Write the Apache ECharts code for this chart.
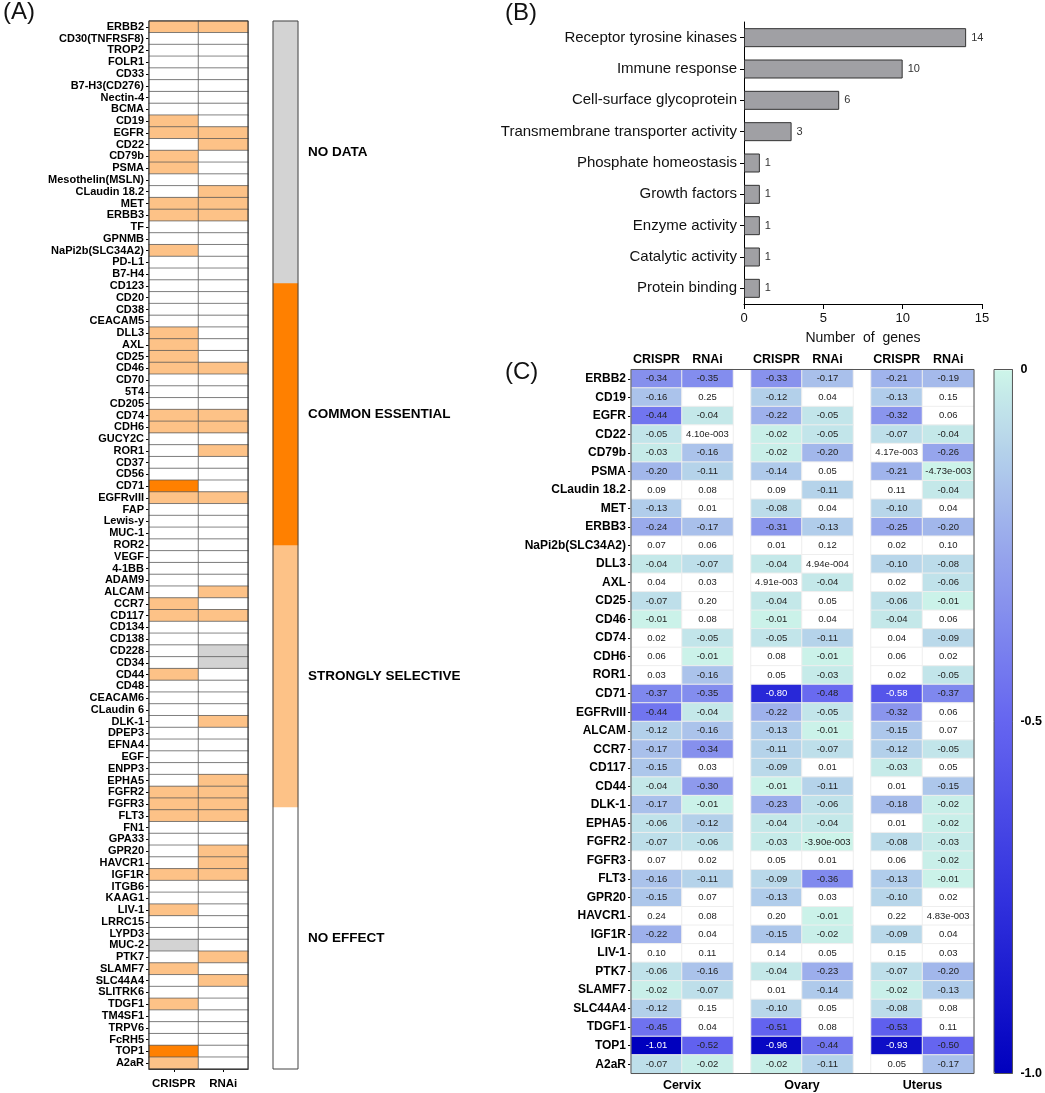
<!DOCTYPE html>
<html><head><meta charset="utf-8">
<script src="https://cdn.jsdelivr.net/npm/echarts@6/dist/echarts.min.js"></script>
<style>html,body{margin:0;padding:0;background:#fff}#c{width:1045px;height:1093px}</style>
</head><body><div id="c"></div>
<script>
// ---------- Panel A data ----------
const genesA = ['ERBB2','CD30(TNFRSF8)','TROP2','FOLR1','CD33','B7-H3(CD276)','Nectin-4','BCMA','CD19','EGFR',
'CD22','CD79b','PSMA','Mesothelin(MSLN)','CLaudin 18.2','MET','ERBB3','TF','GPNMB','NaPi2b(SLC34A2)',
'PD-L1','B7-H4','CD123','CD20','CD38','CEACAM5','DLL3','AXL','CD25','CD46',
'CD70','5T4','CD205','CD74','CDH6','GUCY2C','ROR1','CD37','CD56','CD71',
'EGFRvIII','FAP','Lewis-y','MUC-1','ROR2','VEGF','4-1BB','ADAM9','ALCAM','CCR7',
'CD117','CD134','CD138','CD228','CD34','CD44','CD48','CEACAM6','CLaudin 6','DLK-1',
'DPEP3','EFNA4','EGF','ENPP3','EPHA5','FGFR2','FGFR3','FLT3','FN1','GPA33',
'GPR20','HAVCR1','IGF1R','ITGB6','KAAG1','LIV-1','LRRC15','LYPD3','MUC-2','PTK7',
'SLAMF7','SLC44A4','SLITRK6','TDGF1','TM4SF1','TRPV6','FcRH5','TOP1','A2aR'];
// 0 = no effect, 1 = strongly selective, 2 = common essential, 3 = no data
const crisprA = [1,0,0,0,0,0,0,0,1,1, 0,1,1,0,0,1,1,0,0,1, 0,0,0,0,0,0,1,1,1,1, 0,0,0,1,1,0,0,0,0,2,
1,0,0,0,0,0,0,0,0,1, 1,0,0,0,0,1,0,0,0,0, 0,0,0,0,0,1,1,1,0,0, 0,0,1,0,0,1,0,0,3,0, 1,0,0,1,0,0,0,2,1];
const rnaiA = [1,0,0,0,0,0,0,0,0,1, 1,0,0,0,1,1,1,0,0,0, 0,0,0,0,0,0,0,0,0,1, 0,0,0,1,1,0,1,0,0,0,
1,0,0,0,0,0,0,0,1,0, 1,0,0,3,3,0,0,0,0,1, 0,0,0,0,1,1,1,1,0,0, 1,1,1,0,0,0,0,0,0,1, 0,1,0,0,0,0,0,0,0];
const colsA = ['CRISPR','RNAi'];
const stateNames = ['NO EFFECT','STRONGLY SELECTIVE','COMMON ESSENTIAL','NO DATA'];
const stateCodes = [0,1,2,3];
const stateColors = ['#FFFFFF','#FDC287','#FF8000','#D3D3D3'];

// ---------- Panel B data ----------
const categoriesB = ['Receptor tyrosine kinases','Immune response','Cell-surface glycoprotein','Transmembrane transporter activity',
'Phosphate homeostasis','Growth factors','Enzyme activity','Catalytic activity','Protein binding'];
const countsB = [14,10,6,3,1,1,1,1,1];
const ticksB = [0,5,10,15];

// ---------- Panel C data ----------
const genesC = ['ERBB2','CD19','EGFR','CD22','CD79b','PSMA','CLaudin 18.2','MET','ERBB3','NaPi2b(SLC34A2)',
'DLL3','AXL','CD25','CD46','CD74','CDH6','ROR1','CD71','EGFRvIII','ALCAM',
'CCR7','CD117','CD44','DLK-1','EPHA5','FGFR2','FGFR3','FLT3','GPR20','HAVCR1',
'IGF1R','LIV-1','PTK7','SLAMF7','SLC44A4','TDGF1','TOP1','A2aR'];
const tissuesC = ['Cervix','Ovary','Uterus'];
const methodsC = ['CRISPR','RNAi'];
const cervixCRISPR = [-0.34,-0.16,-0.44,-0.05,-0.03,-0.20,0.09,-0.13,-0.24,0.07,-0.04,0.04,-0.07,-0.01,0.02,0.06,0.03,-0.37,-0.44,-0.12,-0.17,-0.15,-0.04,-0.17,-0.06,-0.07,0.07,-0.16,-0.15,0.24,-0.22,0.10,-0.06,-0.02,-0.12,-0.45,-1.01,-0.07];
const cervixRNAi = [-0.35,0.25,-0.04,0.0041,-0.16,-0.11,0.08,0.01,-0.17,0.06,-0.07,0.03,0.20,0.08,-0.05,-0.01,-0.16,-0.35,-0.04,-0.16,-0.34,0.03,-0.30,-0.01,-0.12,-0.06,0.02,-0.11,0.07,0.08,0.04,0.11,-0.16,-0.07,0.15,0.04,-0.52,-0.02];
const ovaryCRISPR = [-0.33,-0.12,-0.22,-0.02,-0.02,-0.14,0.09,-0.08,-0.31,0.01,-0.04,0.00491,-0.04,-0.01,-0.05,0.08,0.05,-0.80,-0.22,-0.13,-0.11,-0.09,-0.01,-0.23,-0.04,-0.03,0.05,-0.09,-0.13,0.20,-0.15,0.14,-0.04,0.01,-0.10,-0.51,-0.96,-0.02];
const ovaryRNAi = [-0.17,0.04,-0.05,-0.05,-0.20,0.05,-0.11,0.04,-0.13,0.12,0.000494,-0.04,0.05,0.04,-0.11,-0.01,-0.03,-0.48,-0.05,-0.01,-0.07,0.01,-0.11,-0.06,-0.04,-0.0039,0.01,-0.36,0.03,-0.01,-0.02,0.05,-0.23,-0.14,0.05,0.08,-0.44,-0.11];
const uterusCRISPR = [-0.21,-0.13,-0.32,-0.07,0.00417,-0.21,0.11,-0.10,-0.25,0.02,-0.10,0.02,-0.06,-0.04,0.04,0.06,0.02,-0.58,-0.32,-0.15,-0.12,-0.03,0.01,-0.18,0.01,-0.08,0.06,-0.13,-0.10,0.22,-0.09,0.15,-0.07,-0.02,-0.08,-0.53,-0.93,0.05];
const uterusRNAi = [-0.19,0.15,0.06,-0.04,-0.26,-0.00473,-0.04,0.04,-0.20,0.10,-0.08,-0.06,-0.01,0.06,-0.09,0.02,-0.05,-0.37,0.06,0.07,-0.05,0.05,-0.15,-0.02,-0.02,-0.03,-0.02,-0.01,0.02,0.00483,0.04,0.03,-0.20,-0.13,0.08,0.11,-0.50,-0.17];
const colorTicks = [0,-0.5,-1.0];

// ---------- build ----------
const FONT = '"Liberation Sans", Arial, sans-serif';
const dataA = [];
genesA.forEach((g,i)=>{ dataA.push([0,i,crisprA[i]]); dataA.push([1,i,rnaiA[i]]); });
const legendData = stateCodes.map((c,i)=>[0,i,c]);
const tissueCols = [[cervixCRISPR,cervixRNAi],[ovaryCRISPR,ovaryRNAi],[uterusCRISPR,uterusRNAi]];
function cData(pair){ const d=[]; genesC.forEach((g,i)=>{ d.push([0,i,pair[0][i]]); d.push([1,i,pair[1][i]]); }); return d; }
function fmt(v){
  if (v !== 0 && Math.abs(v) < 0.005) {
    const e = Math.floor(Math.log10(Math.abs(v)));
    const m = v / Math.pow(10,e);
    return m.toFixed(2) + 'e-' + String(-e).padStart(3,'0');
  }
  return v.toFixed(2);
}
const gridC = [{left:631,width:102},{left:751,width:102},{left:871,width:103}];
const C_TOP = 369.5, C_H = 704;

const blackLine = {lineStyle:{color:'#000',width:1}};
const grids = [
  {left:149, top:21, width:99, height:1048, show:true, borderColor:'#333', borderWidth:1, z:5},
  {left:273, top:21, width:25, height:1048, show:true, borderColor:'#444', borderWidth:1, z:5},
  {left:744, top:22, width:238, height:282},
  ...gridC.map(g=>({left:g.left, width:g.width, top:C_TOP, height:C_H})),
  {left:631, top:C_TOP, width:343, height:C_H, show:true, borderColor:'#555', borderWidth:1, z:10},
  {left:994, top:C_TOP, width:19, height:C_H, show:true, borderColor:'#555', borderWidth:1, z:10}
];
const xAxes = [
  {gridIndex:0, type:'category', data:colsA, position:'bottom', axisLine:blackLine,
   axisTick:{show:true, length:3, alignWithLabel:true, lineStyle:{color:'#000'}},
   axisLabel:{interval:0, hideOverlap:false, fontFamily:FONT, fontWeight:'bold', fontSize:11.5, color:'#000', margin:9}},
  {gridIndex:1, type:'category', data:[''], show:false},
  {gridIndex:2, type:'value', min:0, max:15, interval:5, axisLine:{show:true, lineStyle:{color:'#000'}},
   axisTick:{show:true, length:5, lineStyle:{color:'#000'}}, splitLine:{show:false},
   axisLabel:{fontFamily:FONT, fontSize:13, color:'#111', margin:8},
   name:'Number  of  genes', nameLocation:'middle', nameGap:27,
   nameTextStyle:{fontFamily:FONT, fontSize:14, color:'#111'}},
  ...gridC.map((g,k)=>({gridIndex:3+k, type:'category', data:methodsC, position:'top',
   axisLine:{show:false}, axisTick:{show:false},
   axisLabel:{interval:0, hideOverlap:false, fontFamily:FONT, fontWeight:'bold', fontSize:12.5, color:'#000', margin:3}})),
  ...gridC.map((g,k)=>({gridIndex:3+k, type:'category', data:[tissuesC[k]], position:'bottom',
   axisLine:{show:false}, axisTick:{show:false},
   axisLabel:{interval:0, fontFamily:FONT, fontWeight:'bold', fontSize:12.5, color:'#000', margin:6}})),
  {gridIndex:6, type:'category', data:[''], show:false},
  {gridIndex:7, type:'category', data:[''], show:false}
];
const yAxes = [
  {gridIndex:0, type:'category', data:genesA, inverse:true, axisLine:blackLine,
   axisTick:{show:true, length:3, alignWithLabel:true, lineStyle:{color:'#000'}},
   axisLabel:{interval:0, hideOverlap:false, fontFamily:FONT, fontWeight:'bold', fontSize:11, color:'#000', margin:5}},
  {gridIndex:1, type:'category', data:stateNames, position:'right', axisLine:{show:false},
   axisTick:{show:true, inside:true, length:3, alignWithLabel:true, lineStyle:{color:'#333'}},
   axisLabel:{interval:0, fontFamily:FONT, fontWeight:'bold', fontSize:13.5, color:'#000', margin:10}},
  {gridIndex:1, type:'category', data:stateNames, position:'left', axisLine:{show:false},
   axisTick:{show:true, inside:true, length:3, alignWithLabel:true, lineStyle:{color:'#333'}},
   axisLabel:{show:false}},
  {gridIndex:2, type:'category', data:categoriesB, inverse:true, axisLine:blackLine,
   axisTick:{show:true, length:4, alignWithLabel:true, lineStyle:{color:'#000'}},
   axisLabel:{interval:0, fontFamily:FONT, fontSize:15, color:'#111', margin:7}},
  {gridIndex:3, type:'category', data:genesC, inverse:true, axisLine:blackLine,
   axisTick:{show:true, length:3, alignWithLabel:true, lineStyle:{color:'#000'}},
   axisLabel:{interval:0, hideOverlap:false, fontFamily:FONT, fontWeight:'bold', fontSize:12, color:'#000', margin:5}},
  {gridIndex:4, type:'category', data:genesC, inverse:true, show:false},
  {gridIndex:5, type:'category', data:genesC, inverse:true, show:false},
  {gridIndex:6, type:'category', data:[''], show:false},
  {gridIndex:7, type:'value', min:-1, max:0, interval:0.5, position:'right',
   axisLine:{show:false}, splitLine:{show:false},
   axisTick:{show:true, inside:true, length:4, lineStyle:{color:'#333'}},
   axisLabel:{fontFamily:FONT, fontWeight:'bold', fontSize:12.5, color:'#000', margin:8,
     formatter:v=>{ const t = colorTicks.find(c=>Math.abs(c-v)<1e-9); return t===0 ? '0' : t.toFixed(1); }}}
];
const series = [
  {type:'heatmap', xAxisIndex:0, yAxisIndex:0, data:dataA,
   itemStyle:{borderColor:'#555', borderWidth:0.7}, emphasis:{disabled:true}},
  {type:'heatmap', xAxisIndex:1, yAxisIndex:1, data:legendData,
   itemStyle:{borderWidth:0}, emphasis:{disabled:true}},
  {type:'bar', xAxisIndex:2, yAxisIndex:3, data:countsB, barWidth:19,
   itemStyle:{color:'#A0A0A4', borderColor:'#333', borderWidth:1},
   label:{show:true, position:'right', distance:5, fontFamily:FONT, fontSize:11, color:'#333'},
   emphasis:{disabled:true}},
  ...tissueCols.map((pair,k)=>({type:'heatmap', xAxisIndex:3+k, yAxisIndex:4+k, data:cData(pair),
   itemStyle:{borderColor:'#EEEEEE', borderWidth:1}, emphasis:{disabled:true},
   label:{show:true, fontFamily:FONT, fontSize:9.5,
     formatter:p=>(p.value[2] < -0.55 ? '{w|' : '{d|') + fmt(p.value[2]) + '}',
     rich:{w:{color:'#FFFFFF', fontFamily:FONT, fontSize:9.5}, d:{color:'#222', fontFamily:FONT, fontSize:9.5}}}}))
];

const panelTitle = {fontFamily:FONT, fontSize:24, fontWeight:'normal', color:'#111'};
const option = {
  animation:false,
  backgroundColor:'#FFFFFF',
  textStyle:{fontFamily:FONT},
  title:[
    {text:'(A)', left:3, top:0, padding:0, textStyle:panelTitle},
    {text:'(B)', left:505, top:1, padding:0, textStyle:panelTitle},
    {text:'(C)', left:505, top:360, padding:0, textStyle:panelTitle}
  ],
  grid:grids, xAxis:xAxes, yAxis:yAxes,
  visualMap:[
    {type:'piecewise', show:false, seriesIndex:[0,1], dimension:2,
     pieces:stateCodes.map((c,i)=>({value:c, color:stateColors[i]}))},
    {type:'continuous', seriesIndex:[3,4,5], dimension:2, min:-1, max:0.001, range:[-1,0],
     calculable:false, hoverLink:false, orient:'vertical', left:994, top:C_TOP,
     itemWidth:19, itemHeight:C_H, padding:0, text:null, showLabel:false,
     inRange:{color:['#0000BE','#3232DE','#6565F0','#98A8EC','#CDF5E9']},
     outOfRange:{color:'#FFFFFF'}}
  ],
  series:series
};
const chart = echarts.init(document.getElementById('c'));
chart.setOption(option);
</script></body></html>
